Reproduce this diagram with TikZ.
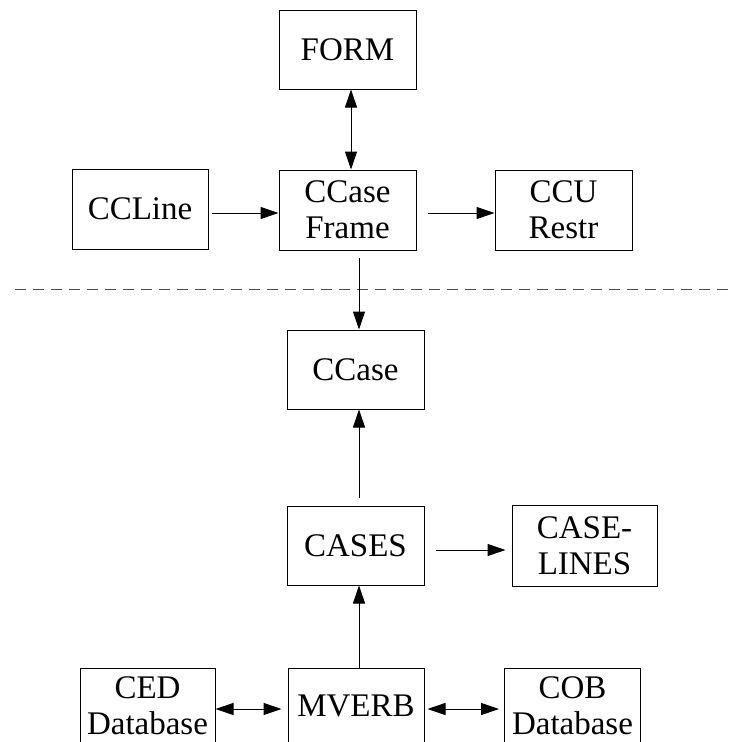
\documentclass[tikz,border=0pt]{standalone}
\usepackage{fontspec}
\setmainfont{Liberation Serif}
\usetikzlibrary{arrows.meta,calc}
\begin{document}
\begin{tikzpicture}[x=1pt,y=-1pt,
  box/.style={draw, line width=1pt, inner sep=0pt, align=center,
    font=\fontsize{33}{36}\selectfont},
  arr/.style={line width=1pt, -{Triangle[length=18pt,width=12pt]}},
  darr/.style={line width=1pt, {Triangle[length=18pt,width=12pt]}-{Triangle[length=18pt,width=12pt]}},
  sep/.style={line width=1pt, dash pattern=on 11pt off 7pt, black!70}]
\useasboundingbox (0,0) rectangle (733,742);
\clip (0,0) rectangle (733,742);
\node[box, minimum width=137pt, minimum height=79pt] (form) at (347.5,49.5) {FORM};
\node[box, minimum width=136pt, minimum height=80pt] (ccline) at (140,209) {CCLine};
\node[box, minimum width=137pt, minimum height=80pt] (frame) at (347.5,210) {CCase\\Frame};
\node[box, minimum width=137pt, minimum height=80pt] (ccu) at (563.5,210) {CCU\\Restr};
\node[box, minimum width=137pt, minimum height=79pt] (ccase) at (355.5,369.5) {CCase};
\node[box, minimum width=137pt, minimum height=79pt] (cases) at (355.5,545.5) {CASES};
\node[box, minimum width=145pt, minimum height=81pt] (caselines) at (584.5,545.5) {CASE-\\LINES};
\node[box, minimum width=135pt, minimum height=76pt] (ced) at (147.5,706) {CED\\Database};
\node[box, minimum width=136pt, minimum height=76pt] (mverb) at (356,706) {MVERB};
\node[box, minimum width=136pt, minimum height=76pt] (cob) at (572.5,706) {COB\\Database};
\coordinate (dl) at (15,289);
\coordinate (dr) at (733,289);
\draw[sep] (dl) -- (dr);
\draw[darr] ($(form.south)+(3.5,0)$) -- ($(frame.north)+(3.5,0)$);
\draw[arr, shorten <=3pt] ($(ccline.east)+(0,4)$) -- ($(frame.west)+(0,3)$);
\draw[arr, shorten <=11pt] ($(frame.east)+(0,3)$) -- ($(ccu.west)+(0,3)$);
\draw[arr, shorten <=7pt] ($(ccase.north |- frame.south)+(3.5,0)$) -- ($(ccase.north)+(3.5,0)$);
\draw[arr, shorten <=8pt] ($(cases.north)+(3.5,0)$) -- ($(ccase.south)+(3.5,0)$);
\draw[arr, shorten <=11pt, shorten >=6pt] ($(cases.east)+(0,4.5)$) -- ($(caselines.west)+(0,4.5)$);
\draw[arr] ($(cases.south |- mverb.north)+(3.5,0)$) -- ($(cases.south)+(3.5,0)$);
\draw[darr, shorten >=6pt] ($(ced.east)+(0,3)$) -- ($(mverb.west)+(0,3)$);
\draw[darr, shorten <=3pt, shorten >=5pt] ($(mverb.east)+(0,3)$) -- ($(cob.west)+(0,3)$);
\end{tikzpicture}
\end{document}
